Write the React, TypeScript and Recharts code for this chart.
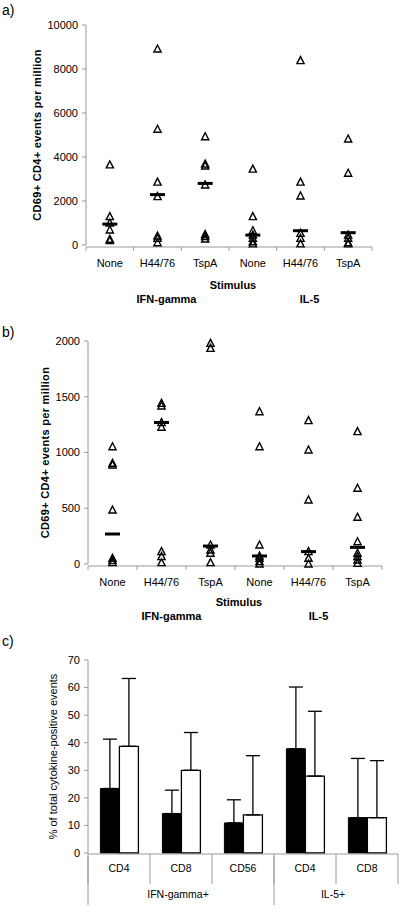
import React from 'react';
import {
  ScatterChart, Scatter, XAxis, YAxis, BarChart, Bar, ErrorBar,
} from 'recharts';

// ---------- shared categories ----------
const stimuli = ['None', 'H44/76', 'TspA', 'None', 'H44/76', 'TspA'];
const cytokines = ['IFN-gamma', 'IL-5'];

// ---------- panel a (CD69+ CD4+ events per million) ----------
const aIfnNone = [3640, 1290, 1000, 680, 260, 200];
const aIfnH44 = [8910, 5260, 2860, 2200, 410, 300, 100];
const aIfnTspA = [4920, 3680, 3590, 2730, 480, 380, 270];
const aIl5None = [3450, 1290, 650, 450, 300, 150, 50];
const aIl5H44 = [8380, 2860, 2230, 530, 300, 50];
const aIl5TspA = [4820, 3260, 450, 300, 100, 50];
const aMedians = [950, 2290, 2800, 450, 650, 560];
const aTicks = [0, 2000, 4000, 6000, 8000, 10000];

// ---------- panel b ----------
const bIfnNone = [1052, 903, 888, 484, 51, 30, 12];
const bIfnH44 = [1441, 1417, 1268, 1226, 111, 66, 12];
const bIfnTspA = [1979, 1934, 170, 126, 96, 12];
const bIl5None = [1366, 1052, 170, 72, 51, 21, 0];
const bIl5H44 = [1286, 1022, 574, 111, 51, 0];
const bIl5TspA = [1187, 679, 419, 200, 96, 66, 36, 6];
const bMedians = [269, 1268, 161, 72, 111, 149];
const bTicks = [0, 500, 1000, 1500, 2000];

// ---------- panel c ----------
const cellTypes = ['CD4', 'CD8', 'CD56', 'CD4', 'CD8'];
const blackMeans = [23.4, 14.3, 10.9, 37.8, 12.8];
const blackErrTop = [41.3, 22.8, 19.3, 60.2, 34.3];
const whiteMeans = [38.7, 30.0, 13.8, 27.9, 12.8];
const whiteErrTop = [63.3, 43.7, 35.3, 51.4, 33.5];
const cGroups = ['IFN-gamma+', 'IL-5+'];
const cTicks = [0, 10, 20, 30, 40, 50, 60, 70];

const FONT = '"Liberation Sans", Arial, sans-serif';

const toPoints = (groups: number[][]) =>
  groups.flatMap((vals, i) => vals.map((v) => ({ x: i + 0.5, y: v })));
const toMedians = (m: number[]) => m.map((v, i) => ({ x: i + 0.5, y: v }));

const Triangle = (props: any) => {
  const { cx, cy } = props;
  return (
    <polygon
      points={`${cx},${cy - 4} ${cx - 3.6},${cy + 3} ${cx + 3.6},${cy + 3}`}
      fill="none"
      stroke="#000"
      strokeWidth={1.4}
    />
  );
};

const MedianBar = (props: any) => {
  const { cx, cy } = props;
  return <line x1={cx - 7.5} x2={cx + 7.5} y1={cy} y2={cy} stroke="#000" strokeWidth={3} />;
};

const Nothing = () => null;
const blank = () => '';

const makeGroupTick = (labels: string[], dx: number, bold: boolean, size: number) => (props: any) => {
  const { x, y, index } = props;
  return (
    <text
      x={x + dx}
      y={y}
      dy="0.71em"
      textAnchor="middle"
      fontSize={size}
      fontWeight={bold ? 'bold' : 'normal'}
      fill="#000"
      fontFamily={FONT}
    >
      {labels[index]}
    </text>
  );
};

const tickStyle = { fill: '#000', fontSize: 11, fontFamily: FONT };

function DotPanel(props: {
  groups: number[][];
  medians: number[];
  yMax: number;
  yTicks: number[];
  yAxisWidth: number;
  rightMargin: number;
  bottomMargin: number;
  labelOffset: number;
  groupDx: number;
  stimOffset: number;
  groupMargin: number;
}) {
  const { groups, medians, yMax, yTicks, yAxisWidth, rightMargin, bottomMargin, labelOffset, groupDx, stimOffset, groupMargin } = props;
  const pts = toPoints(groups);
  const meds = toMedians(medians);
  return (
    <ScatterChart width={400} height={320} margin={{ top: 25, right: rightMargin, left: 0, bottom: bottomMargin }}>
      <XAxis xAxisId="data" type="number" dataKey="x" domain={[0, 6]} allowDataOverflow hide height={0} />
      <XAxis
        xAxisId="tk"
        type="number"
        dataKey="x"
        domain={[0, 6]}
        allowDataOverflow
        ticks={[0, 1, 2, 3, 4, 5, 6]}
        tickFormatter={blank}
        tickSize={4}
        height={1}
        stroke="#9a9a9a"
      />
      <XAxis
        xAxisId="lab"
        type="number"
        dataKey="x"
        domain={[0, 6]}
        allowDataOverflow
        ticks={[0.5, 1.5, 2.5, 3.5, 4.5, 5.5]}
        tickFormatter={(v: number) => stimuli[Math.floor(v)]}
        tick={tickStyle}
        tickLine={false}
        axisLine={false}
        tickMargin={7}
        height={1}
        label={{
          value: 'Stimulus',
          position: 'bottom',
          offset: stimOffset,
          dx: 4,
          style: { fontWeight: 'bold', fontSize: 11, fill: '#000', fontFamily: FONT },
        }}
      />
      <XAxis
        xAxisId="grp"
        type="number"
        dataKey="x"
        domain={[0, 6]}
        allowDataOverflow
        ticks={[1.5, 4.5]}
        tick={makeGroupTick(cytokines, groupDx, true, 11)}
        tickLine={false}
        axisLine={false}
        tickMargin={groupMargin}
        height={1}
      />
      <YAxis
        type="number"
        dataKey="y"
        domain={[0, yMax]}
        ticks={yTicks}
        width={yAxisWidth}
        tick={tickStyle}
        tickSize={4}
        tickMargin={4}
        stroke="#9a9a9a"
        label={{
          value: 'CD69+ CD4+ events per million',
          angle: -90,
          position: 'insideLeft',
          offset: labelOffset,
          style: { textAnchor: 'middle', fontWeight: 'bold', fontSize: 11, fill: '#000', fontFamily: FONT, letterSpacing: 0.3 },
        }}
      />
      <Scatter xAxisId="data" data={pts} shape={<Triangle />} isAnimationActive={false} />
      <Scatter xAxisId="data" data={meds} shape={<MedianBar />} isAnimationActive={false} />
      <Scatter xAxisId="tk" data={meds} shape={<Nothing />} isAnimationActive={false} />
      <Scatter xAxisId="lab" data={meds} shape={<Nothing />} isAnimationActive={false} />
      <Scatter xAxisId="grp" data={meds} shape={<Nothing />} isAnimationActive={false} />
    </ScatterChart>
  );
}

function BarPanel() {
  const data = cellTypes.map((c, i) => ({
    cell: c,
    pos: i + 0.5,
    black: blackMeans[i],
    blackErr: [0, blackErrTop[i] - blackMeans[i]],
    white: whiteMeans[i],
    whiteErr: [0, whiteErrTop[i] - whiteMeans[i]],
  }));
  return (
    <BarChart
      width={400}
      height={283}
      data={data}
      margin={{ top: 30, right: 2, left: 0, bottom: 56 }}
      barCategoryGap="20%"
      barGap={0}
    >
      <XAxis
        xAxisId="div"
        dataKey="pos"
        type="number"
        domain={[0, 5]}
        allowDataOverflow
        ticks={[0, 1, 2, 3, 4, 5]}
        tickFormatter={blank}
        tickSize={30}
        height={1}
        stroke="#9a9a9a"
      />
      <XAxis
        xAxisId="grpLine"
        dataKey="pos"
        type="number"
        domain={[0, 5]}
        allowDataOverflow
        ticks={[0, 3]}
        tickFormatter={blank}
        tickSize={49}
        axisLine={false}
        height={1}
        stroke="#9a9a9a"
      />
      <XAxis
        xAxisId="grpLab"
        dataKey="pos"
        type="number"
        domain={[0, 5]}
        allowDataOverflow
        ticks={[1.5, 4]}
        tick={makeGroupTick(cGroups, -3, false, 10.5)}
        tickLine={false}
        axisLine={false}
        tickMargin={30}
        height={1}
      />
      <XAxis
        xAxisId="cat"
        dataKey="cell"
        type="category"
        tick={{ ...tickStyle, fontSize: 10.5 }}
        tickLine={false}
        axisLine={false}
        tickMargin={6}
        height={1}
      />
      <YAxis
        type="number"
        domain={[0, 70]}
        ticks={cTicks}
        width={88}
        tick={tickStyle}
        tickSize={4}
        tickMargin={4}
        stroke="#9a9a9a"
        label={{
          value: '% of total cytokine-positive events',
          angle: -90,
          position: 'insideLeft',
          offset: 53,
          style: { textAnchor: 'middle', fontSize: 11, fill: '#000', fontFamily: FONT },
        }}
      />
      <Bar xAxisId="cat" dataKey="black" fill="#000" stroke="#000" strokeWidth={1} isAnimationActive={false}>
        <ErrorBar dataKey="blackErr" direction="y" width={7} stroke="#000" strokeWidth={1.3} />
      </Bar>
      <Bar xAxisId="cat" dataKey="white" fill="#fff" stroke="#000" strokeWidth={1.3} isAnimationActive={false}>
        <ErrorBar dataKey="whiteErr" direction="y" width={7} stroke="#000" strokeWidth={1.3} />
      </Bar>
    </BarChart>
  );
}

const panelLetter = (t: string, top: number) => (
  <div style={{ position: 'absolute', left: 2, top, fontSize: 14, lineHeight: '16px', fontFamily: FONT }}>{t}</div>
);

export default function App() {
  return (
    <div style={{ position: 'absolute', left: 0, top: 0, width: 400, height: 913, background: '#fff', fontFamily: FONT, overflow: 'hidden' }}>
      {panelLetter('a)', 2)}
      {panelLetter('b)', 324)}
      {panelLetter('c)', 633)}
      <div style={{ position: 'absolute', left: 0, top: 0 }}>
        <DotPanel
          groups={[aIfnNone, aIfnH44, aIfnTspA, aIl5None, aIl5H44, aIl5TspA]}
          medians={aMedians}
          yMax={10000}
          yTicks={aTicks}
          yAxisWidth={86}
          rightMargin={28}
          bottomMargin={72}
          labelOffset={37}
          groupDx={9}
          stimOffset={34}
          groupMargin={44}
        />
      </div>
      <div style={{ position: 'absolute', left: 0, top: 316 }}>
        <DotPanel
          groups={[bIfnNone, bIfnH44, bIfnTspA, bIl5None, bIl5H44, bIl5TspA]}
          medians={bMedians}
          yMax={2000}
          yTicks={bTicks}
          yAxisWidth={88}
          rightMargin={18}
          bottomMargin={69}
          labelOffset={45}
          groupDx={10}
          stimOffset={32}
          groupMargin={42}
        />
      </div>
      <div style={{ position: 'absolute', left: 0, top: 630 }}>
        <BarPanel />
      </div>
    </div>
  );
}
